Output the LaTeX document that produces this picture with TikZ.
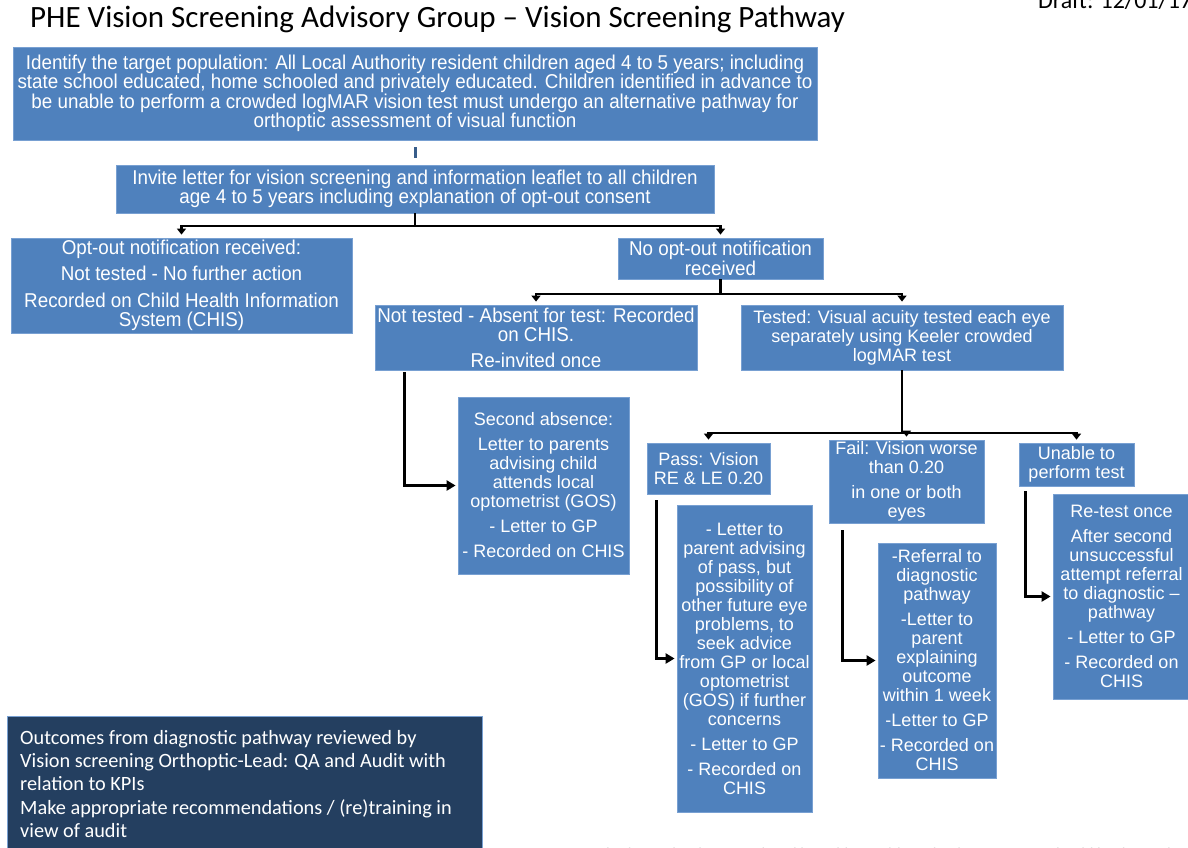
\documentclass[tikz,border=0pt]{standalone}
\usepackage{fontspec}
\setmainfont{Liberation Sans}
\newfontfamily\narrowf[FakeStretch=0.94]{Liberation Sans}
\newfontfamily\calib{Carlito}
\usetikzlibrary{arrows.meta}
\definecolor{boxblue}{RGB}{79,129,189}
\definecolor{boxedge}{RGB}{120,160,210}
\definecolor{darkbox}{RGB}{36,63,96}
\definecolor{stemblue}{RGB}{56,93,138}
\tikzset{
  bx/.style={fill=boxblue, draw=boxedge, line width=0.8pt, text=white, align=center, inner sep=0pt,
    font=\fontsize{18}{19}\selectfont},
  nbx/.style={bx, font=\narrowf\fontsize{20}{19.5}\selectfont},
  conn/.style={line width=2.6pt, black},
  arr/.style={conn, -{Triangle[length=9pt,width=10pt]}, shorten >=2pt},
  tick/.style={conn, -{Triangle[length=6pt,width=9pt]}, shorten >=3pt}
}
\begin{document}
\begin{tikzpicture}[x=1pt,y=-1pt]
\useasboundingbox (0,0) rectangle (1188,848);
% title and clipped marginal texts
\node[anchor=base west, inner sep=0pt, font=\calib\fontsize{31}{34}\selectfont] (title) at (30,28) {PHE Vision Screening Advisory Group – Vision Screening Pathway};
\node[anchor=base west, inner sep=0pt, font=\calib\fontsize{24}{26}\selectfont] (draft) at (1038,9) {Draft: 12/01/17};
\node[anchor=base west, inner sep=0pt, font=\calib\fontsize{16}{18}\selectfont] (foot) at (598,859) {This leaflet has been produced by Public Health England. Any queries should be directed to the};

% boxes
\node[nbx, minimum width=804, minimum height=93] (top) at (415,93.5)
 {Identify the target population: All Local Authority resident children aged 4 to 5 years; including\\
  state school educated, home schooled and privately educated. Children identified in advance to\\
  be unable to perform a crowded logMAR vision test must undergo an alternative pathway for\\
  orthoptic assessment of visual function};
\node[nbx, minimum width=598, minimum height=48] (invite) at (415,189)
 {Invite letter for vision screening and information leaflet to all children\\
  age 4 to 5 years including explanation of opt-out consent};
\node[nbx, minimum width=341, minimum height=95] (optout) at (181.5,285.5)
 {Opt-out notification received:\\[7pt]
  Not tested - No further action\\[7pt]
  Recorded on Child Health Information\\
  System (CHIS)};
\node[nbx, minimum width=205, minimum height=41] (noopt) at (720.5,258.5)
 {No opt-out notification\\ received};
\node[nbx, minimum width=322, minimum height=65] (absent) at (536,337.5)
 {Not tested - Absent for test: Recorded\\ on CHIS.\\[6pt] Re-invited once};
\node[bx, minimum width=322, minimum height=65] (tested) at (902,337.5)
 {Tested: Visual acuity tested each eye\\ separately using Keeler crowded\\ logMAR test};
\node[bx, minimum width=171, minimum height=177] (second) at (543.5,485.5)
 {Second absence:\\[6pt] Letter to parents\\ advising child\\ attends local\\ optometrist (GOS)\\[6pt]
  - Letter to GP\\[6pt] - Recorded on CHIS};
\node[bx, minimum width=123, minimum height=51] (pass) at (708.5,468.5)
 {Pass: Vision\\ RE \& LE 0.20};
\node[bx, minimum width=155, minimum height=83] (fail) at (906.5,481.5)
 {Fail: Vision worse\\ than 0.20\\[6pt] in one or both\\ eyes};
\node[bx, minimum width=115, minimum height=43] (unable) at (1076.5,464.5)
 {Unable to\\ perform test};
\node[bx, minimum width=135, minimum height=307] (passd) at (744.5,658.5)
 {- Letter to\\ parent advising\\ of pass, but\\ possibility of\\ other future eye\\ problems, to\\ seek advice\\
  from GP or local\\ optometrist\\ (GOS) if further\\ concerns\\[6pt] - Letter to GP\\[6pt] - Recorded on\\ CHIS};
\node[bx, minimum width=118, minimum height=235] (faild) at (937,660.5)
 {-Referral to\\ diagnostic\\ pathway\\[6pt] -Letter to\\ parent\\ explaining\\ outcome\\ within 1 week\\[6pt]
  -Letter to GP\\[6pt] - Recorded on\\ CHIS};
\node[bx, minimum width=137, minimum height=205] (unabled) at (1121.5,596.5)
 {Re-test once\\[6pt] After second\\ unsuccessful\\ attempt referral\\ to diagnostic –\\ pathway\\[6pt]
  - Letter to GP\\[6pt] - Recorded on\\ CHIS};
\node[fill=darkbox, draw=boxedge, line width=0.8pt, text=white, inner sep=0pt, minimum width=475, minimum height=140,
  anchor=north west] (dark) at (7,716) {};
\node[anchor=north west, text=white, align=left, inner sep=0pt, font=\calib\fontsize{20.3}{23.3}\selectfont] (darktxt) at (20,730)
 {Outcomes from diagnostic pathway reviewed by\\
  Vision screening Orthoptic-Lead: QA and Audit with\\
  relation to KPIs\\
  Make appropriate recommendations / (re)training in\\
  view of audit};

% connectors
\draw[line width=3pt, stemblue] ([yshift=-7pt]top.south) -- ([yshift=-18pt]top.south);
\coordinate (j1) at (415,226);
\draw[conn] (invite.south) -- (j1);
\draw[tick] (j1) -| (optout.north);
\draw[tick] (j1) -| (noopt.north);
\coordinate (j2) at (720.5,294);
\draw[conn] (noopt.south) -- (j2);
\draw[tick] (j2) -| (absent.north);
\draw[tick] (j2) -| (tested.north);
\draw[arr] ([xshift=30pt,yshift=-2pt]absent.south west) |- (second.west);
\coordinate (j3) at (902,433);
\draw[conn] (tested.south) -- (j3);
\draw[tick] (j3) -| (pass.north);
\draw[tick] (j3) -| (fail.north);
\draw[tick] (j3) -| (unable.north);
\draw[arr] ([xshift=10pt,yshift=-6pt]pass.south west) |- (passd.west);
\draw[arr] ([xshift=14pt,yshift=-7pt]fail.south west) |- (faild.west);
\draw[arr] ([xshift=7pt,yshift=-5pt]unable.south west) |- (unabled.west);
\end{tikzpicture}
\end{document}
